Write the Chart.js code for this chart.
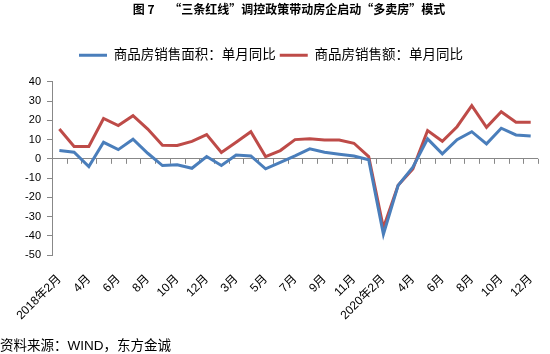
<!DOCTYPE html>
<html>
<head>
<meta charset="utf-8">
<script src="https://cdn.jsdelivr.net/npm/chart.js@4"></script>
<style>
  body { margin: 0; background: #fff; }
  canvas { display: block; }
</style>
</head>
<body>
<canvas id="salesChart" width="550" height="354"></canvas>
<script>
// Місяці (січень-лютий об'єднані)
const months = ['2月', '3月', '4月', '5月', '6月', '7月', '8月', '9月', '10月', '11月', '12月'];
const labels = [
  ...months.map((m, i) => (i === 0 ? '2018年' : '') + m),
  ...months.map((m, i) => (i === 0 ? '2019年' : '') + m),
  ...months.map((m, i) => (i === 0 ? '2020年' : '') + m),
];

// 商品房销售面积：单月同比
const areaYoY = [
  4.3, 3.4, -4.0, 8.6, 4.8, 10.2, 2.9, -3.5, -3.1, -4.9, 1.2,
  -3.5, 2.0, 1.5, -5.2, -1.8, 1.5, 5.2, 3.4, 2.4, 1.5, -0.5,
  -39.2, -13.8, -4.3, 10.4, 2.6, 10.0, 14.1, 7.8, 15.9, 12.4, 11.9
];
// 商品房销售额：单月同比
const amountYoY = [
  15.5, 6.4, 6.4, 21.0, 17.3, 22.4, 15.5, 7.1, 6.9, 9.1, 12.6,
  3.3, 8.6, 14.1, 1.2, 4.3, 10.0, 10.4, 9.8, 9.8, 8.1, 1.2,
  -35.8, -13.8, -5.2, 14.7, 9.1, 16.7, 27.6, 16.4, 24.5, 19.0, 19.0
];

const yTicks = { min: -50, max: 40, step: 10 };

const font = '"Liberation Sans", "Noto Sans CJK SC", sans-serif';
const cjkFont = '"Noto Sans CJK SC", "Liberation Sans", sans-serif';
const axisGray = '#888888';

// засічки на нульовій лінії між категоріями
const zeroTicks = {
  id: 'zeroTicks',
  beforeDatasetsDraw(chart) {
    const { ctx, scales: { x, y } } = chart;
    const y0 = y.getPixelForValue(0);
    ctx.save();
    ctx.strokeStyle = axisGray;
    ctx.lineWidth = 1;
    for (let i = 1; i <= labels.length; i++) {
      const px = Math.round(x.getPixelForValue(i - 0.5)) + 0.5;
      ctx.beginPath();
      ctx.moveTo(px, y0);
      ctx.lineTo(px, y0 + 5);
      ctx.stroke();
    }
    ctx.restore();
  }
};

// трохи місця під легендою, заголовок трохи правіше
const layoutTweaks = {
  id: 'layoutTweaks',
  beforeInit(chart) {
    const fit = chart.legend.fit;
    chart.legend.fit = function () {
      fit.bind(chart.legend)();
      this.height += 10;
    };
  },
  afterLayout(chart) {
    chart.titleBlock.left += 18;
    chart.titleBlock.right += 18;
  }
};

const config = {
  type: 'line',
  data: {
    labels: labels,
    datasets: [
      {
        label: '商品房销售面积：单月同比',
        data: areaYoY,
        borderColor: '#4A7EBB',
        backgroundColor: '#4A7EBB',
        borderWidth: 3,
        pointRadius: 0,
        tension: 0,
      },
      {
        label: '商品房销售额：单月同比',
        data: amountYoY,
        borderColor: '#BE4B48',
        backgroundColor: '#BE4B48',
        borderWidth: 3,
        pointRadius: 0,
        tension: 0,
      },
    ],
  },
  options: {
    responsive: false,
    animation: false,
    layout: { padding: { left: 0, right: 8, top: 0, bottom: 0 } },
    plugins: {
      title: {
        display: true,
        text: '图 7　 “三条红线”调控政策带动房企启动“多卖房”模式',
        color: '#000',
        font: { family: cjkFont, size: 12, weight: 'bold' },
        padding: { top: 2, bottom: 28 },
      },
      legend: {
        display: true,
        position: 'top',
        labels: {
          color: '#000',
          font: { family: font, size: 13.5 },
          usePointStyle: true,
          pointStyle: 'line',
          pointStyleWidth: 28,
          boxWidth: 28,
          padding: 4,
        },
      },
      subtitle: {
        display: true,
        position: 'bottom',
        align: 'start',
        text: '资料来源：WIND，东方金诚',
        color: '#000',
        font: { family: font, size: 13.5 },
        padding: 0,
      },
      tooltip: { enabled: false },
    },
    scales: {
      x: {
        offset: true,
        grid: { display: false },
        border: { display: false },
        ticks: {
          color: '#000',
          font: { family: font, size: 12 },
          autoSkip: false,
          minRotation: 45,
          maxRotation: 45,
          padding: 9,
          callback: (v, i) => (i % 2 === 0 ? labels[i] : ''),
        },
        afterFit(scale) { scale.height = 82.8; },
      },
      y: {
        min: yTicks.min,
        max: yTicks.max,
        grid: {
          drawOnChartArea: true,
          color: (c) => (c.tick && c.tick.value === 0 ? axisGray : 'rgba(0,0,0,0)'),
          tickColor: axisGray,
          tickLength: 5,
        },
        border: { display: true, color: axisGray },
        ticks: {
          stepSize: yTicks.step,
          color: '#000',
          font: { family: font, size: 11 },
          padding: 6,
        },
        afterFit(scale) { scale.width = 52; },
      },
    },
  },
  plugins: [zeroTicks, layoutTweaks],
};

const ctx = document.getElementById('salesChart').getContext('2d');
const salesChart = new Chart(ctx, config);
</script>
</body>
</html>
